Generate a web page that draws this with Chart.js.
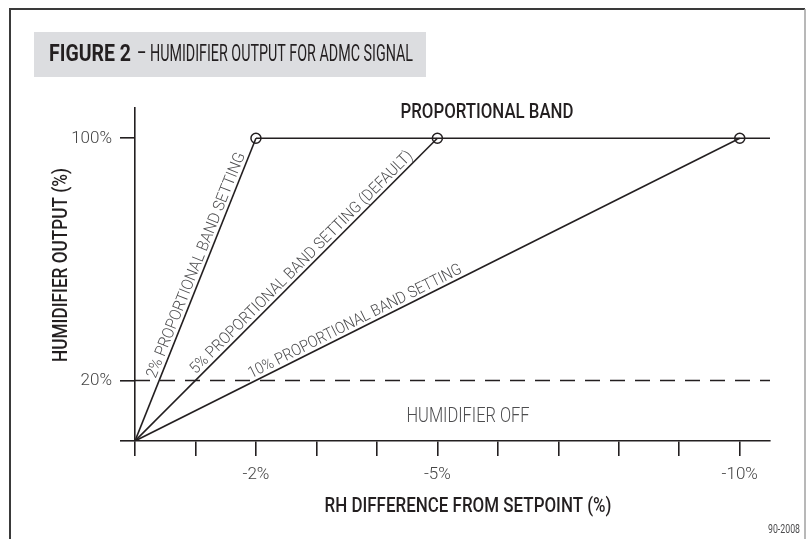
<!DOCTYPE html>
<html>
<head>
<meta charset="utf-8">
<script src="https://cdn.jsdelivr.net/npm/chart.js@4.4.1/dist/chart.umd.min.js"></script>
<style>
    html, body { margin: 0; padding: 0; background: #fff; }
    canvas { display: block; }
</style>
</head>
<body>
<canvas id="chart" width="806" height="539"></canvas>
<script>
// axis ticks
const xTicks = [0, -1, -2, -3, -4, -5, -6, -7, -8, -9, -10]
const xLabelled = [-2, -5, -10]
const yTicks = [0, 20, 100]

// proportional band lines (RH difference %, output %)
const band2X = [0, -2]
const band2Y = [0, 100]
const band5X = [0, -5]
const band5Y = [0, 100]
const band10X = [0, -10]
const band10Y = [0, 100]

// full output plateau and the off threshold
const fullX = [-2, -10.5]
const fullY = [100, 100]
const offX = [0, -10.5]
const offY = [20, 20]

// end points of each band
const limitX = [-2, -5, -10]
const limitY = [100, 100, 100]

const INK = '#231f20'
const GREY_TEXT = '#4d4d4f'

function pts(xs, ys) {
    return xs.map((x, i) => ({ x, y: ys[i] }))
}

function lineSet(xs, ys, extra) {
    return Object.assign({
        data: pts(xs, ys),
        showLine: true,
        borderColor: INK,
        borderWidth: 1.6,
        pointRadius: 0,
        fill: false
    }, extra || {})
}

// text drawn to an exact width (the original uses a condensed face)
function fitText(ctx, text, x, y, width, font, color, align) {
    ctx.save()
    ctx.font = font
    ctx.fillStyle = color
    ctx.textBaseline = 'middle'
    const w = ctx.measureText(text).width
    const k = width / w
    let left = x
    if (align === 'center') left = x - width / 2
    if (align === 'right') left = x - width
    ctx.translate(left, y)
    ctx.scale(k, 1)
    ctx.textAlign = 'left'
    ctx.fillText(text, 0, 0)
    ctx.restore()
}

const lineLabels = [
    { xs: band2X, ys: band2Y, t0: 0.2, t1: 0.94, text: '2% PROPORTIONAL BAND SETTING' },
    { xs: band5X, ys: band5Y, t0: 0.21, t1: 0.93, text: '5% PROPORTIONAL BAND SETTING (DEFAULT)' },
    { xs: band10X, ys: band10Y, t0: 0.195, t1: 0.545, text: '10% PROPORTIONAL BAND SETTING' }
]

const decor = {
    id: 'decor',
    beforeDraw(chart) {
        const ctx = chart.ctx
        ctx.save()
        ctx.fillStyle = '#fff'
        ctx.fillRect(0, 0, chart.width, chart.height)
        // frame
        ctx.strokeStyle = '#3a3a3a'
        ctx.lineWidth = 2
        ctx.beginPath()
        ctx.moveTo(10, 539)
        ctx.lineTo(10, 9)
        ctx.lineTo(805, 9)
        ctx.stroke()
        ctx.strokeStyle = '#a0a0a0'
        ctx.lineWidth = 1.5
        ctx.beginPath()
        ctx.moveTo(805, 9)
        ctx.lineTo(805, 539)
        ctx.stroke()
        // title box
        ctx.fillStyle = '#dcdde0'
        ctx.fillRect(34, 32, 392, 45)
        ctx.restore()
    },
    afterDatasetsDraw(chart) {
        const ctx = chart.ctx
        const xs = chart.scales.x
        const ys = chart.scales.y
        lineLabels.forEach(l => {
            const x0 = xs.getPixelForValue(l.xs[0]), y0 = ys.getPixelForValue(l.ys[0])
            const x1 = xs.getPixelForValue(l.xs[1]), y1 = ys.getPixelForValue(l.ys[1])
            const dx = x1 - x0, dy = y1 - y0
            const len = Math.hypot(dx, dy)
            const ang = Math.atan2(dy, dx)
            ctx.save()
            ctx.translate(x0 + dx * l.t0, y0 + dy * l.t0)
            ctx.rotate(ang)
            ctx.font = '300 16px Roboto, "Open Sans", sans-serif'
            const w = ctx.measureText(l.text).width
            ctx.scale((l.t1 - l.t0) * len / w, 1)
            ctx.fillStyle = GREY_TEXT
            ctx.textBaseline = 'alphabetic'
            ctx.fillText(l.text, 0, -4)
            ctx.restore()
        })
    },
    afterDraw(chart) {
        const ctx = chart.ctx
        fitText(ctx, 'FIGURE 2', 49, 55, 82, 'bold 23px Roboto, sans-serif', INK, 'left')
        fitText(ctx, '– HUMIDIFIER OUTPUT FOR ADMC SIGNAL', 137, 55, 276, '23px Roboto, sans-serif', INK, 'left')
        fitText(ctx, 'PROPORTIONAL BAND', 487, 113, 173, '500 20px Roboto, sans-serif', INK, 'center')
        fitText(ctx, 'HUMIDIFIER OFF', 468, 417, 123, '300 21px Roboto, sans-serif', GREY_TEXT, 'center')
        fitText(ctx, 'RH DIFFERENCE FROM SETPOINT (%)', 468, 507, 287, '500 21px Roboto, sans-serif', INK, 'center')
        fitText(ctx, '90-2008', 800, 530, 32, '12px Roboto, sans-serif', GREY_TEXT, 'right')
        ctx.save()
        ctx.translate(62, 265)
        ctx.rotate(-Math.PI / 2)
        fitText(ctx, 'HUMIDIFIER OUTPUT (%)', 0, 0, 194, '500 21px Roboto, sans-serif', INK, 'center')
        ctx.restore()
    }
}

const data = {
    datasets: [
        lineSet(offX, offY, { borderDash: [15, 10], borderWidth: 1.4 }),
        lineSet(band2X, band2Y),
        lineSet(band5X, band5Y),
        lineSet(band10X, band10Y),
        lineSet(fullX, fullY),
        {
            data: pts(limitX, limitY),
            showLine: false,
            pointRadius: 5,
            pointBackgroundColor: '#fff',
            pointBorderColor: INK,
            pointBorderWidth: 1.5
        }
    ]
}

const tickFont = { family: 'Roboto', weight: '300', size: 17 }
const grid = { drawOnChartArea: false, drawTicks: true, tickLength: 15, color: INK, lineWidth: 1.6 }

const options = {
    responsive: false,
    animation: false,
    devicePixelRatio: 1,
    layout: { padding: { top: 108, right: 36, left: 0, bottom: 0 } },
    plugins: {
        legend: { display: false },
        tooltip: { enabled: false }
    },
    scales: {
        x: {
            type: 'linear',
            reverse: true,
            min: -10.5,
            max: 0,
            grid,
            border: { color: INK, width: 1.6 },
            afterBuildTicks: s => { s.ticks = xTicks.map(v => ({ value: v })) },
            afterFit: s => { s.height = 98 },
            ticks: {
                padding: 9,
                color: '#444',
                font: tickFont,
                maxRotation: 0,
                autoSkip: false,
                callback: v => xLabelled.includes(v) ? v + '%' : ''
            }
        },
        y: {
            type: 'linear',
            min: 0,
            max: 110,
            grid,
            border: { color: INK, width: 1.6 },
            afterBuildTicks: s => { s.ticks = yTicks.map(v => ({ value: v })) },
            afterFit: s => { s.width = 135 },
            ticks: {
                padding: 8,
                color: '#444',
                font: tickFont,
                autoSkip: false,
                callback: v => v === 0 ? '' : v + '%'
            }
        }
    }
}

new Chart('chart', { type: 'scatter', data, options, plugins: [decor] })
</script>
</body>
</html>
